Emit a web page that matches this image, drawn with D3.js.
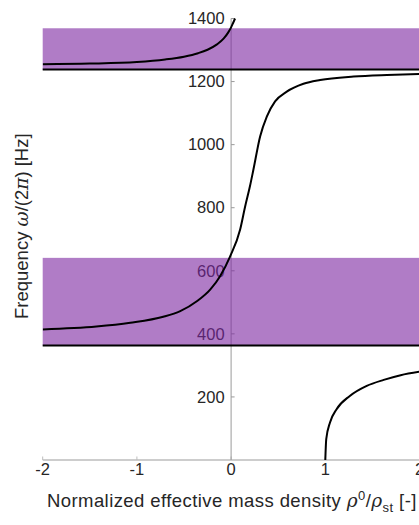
<!DOCTYPE html>
<html>
<head>
<meta charset="utf-8">
<script src="https://cdn.jsdelivr.net/npm/d3@7"></script>
<style>
  body { margin: 0; background: #fff; }
  svg { display: block; font-family: "Liberation Sans", Arial, sans-serif; }
</style>
</head>
<body>
<div id="chart"></div>
<script>
// stop bands (Hz), resonance frequencies (Hz)
var bands = [[363, 641], [1238, 1369]];
var resonances = [363, 1238];

// branches: [rho0/rho_st, frequency]
var branchTop = [[-2, 1255], [-1.5, 1257], [-1, 1262], [-0.7, 1270], [-0.5, 1279], [-0.35, 1290],
  [-0.25, 1301], [-0.15, 1318], [-0.08, 1336], [-0.03, 1356], [0.0, 1372], [0.02, 1385], [0.042, 1400]];
var branchMid = [[-2, 414], [-1.43, 423], [-1.07, 435], [-0.72, 454], [-0.54, 472], [-0.36, 504],
  [-0.22, 541], [-0.117, 583], [-0.01, 646], [0.096, 731], [0.149, 804], [0.2, 868], [0.237, 921],
  [0.308, 1026], [0.379, 1089], [0.467, 1137], [0.591, 1168], [0.768, 1193], [0.945, 1205],
  [1.3, 1216], [1.654, 1221], [2.0, 1224]];
var branchLow = [[1.0, 0], [1.01, 66], [1.05, 119], [1.12, 161], [1.26, 203], [1.44, 235],
  [1.62, 254], [1.8, 269], [2.0, 280]];

var xTicks = [-2, -1, 0, 1, 2];
var yTicks = [200, 400, 600, 800, 1000, 1200, 1400];

const width = 419, height = 525;
const mLeft = 42.7, mRight = 419.5, mTop = 18.5, mBottom = 460;

const svg = d3.select('#chart').append('svg')
  .attr('width', width)
  .attr('height', height);

const x = d3.scaleLinear().domain([-2, 2]).range([mLeft, mRight]);
const y = d3.scaleLinear().domain([0, 1400]).range([mBottom, mTop]);

svg.append('clipPath').attr('id', 'plot')
  .append('rect').attr('x', mLeft).attr('y', mTop - 2).attr('width', mRight - mLeft).attr('height', mBottom - mTop + 2);

// x axis along the bottom
const xAxis = svg.append('g').attr('transform', `translate(0,${mBottom})`);
xAxis.append('line').attr('x1', mLeft).attr('x2', mRight).attr('stroke', '#bdbdbd').attr('stroke-width', 1.3);
xAxis.selectAll('.tk').data(xTicks).enter().append('line')
  .attr('x1', d => x(d)).attr('x2', d => x(d)).attr('y1', 0).attr('y2', -3.5)
  .attr('stroke', '#bdbdbd');
xAxis.selectAll('text').data(xTicks).enter().append('text')
  .attr('x', d => x(d)).attr('y', 14.5)
  .attr('text-anchor', 'middle').attr('font-size', 16.5).attr('fill', '#262626')
  .text(d => d);

// y axis at rho = 0
const yAxis = svg.append('g').attr('transform', `translate(${x(0)},0)`);
yAxis.append('line').attr('y1', y(0)).attr('y2', y(1400)).attr('stroke', '#9a9a9a').attr('stroke-width', 1);
yAxis.selectAll('.tk').data(yTicks).enter().append('line')
  .attr('x1', 0).attr('x2', 3.5).attr('y1', d => y(d)).attr('y2', d => y(d))
  .attr('stroke', '#9a9a9a');
yAxis.selectAll('text').data(yTicks).enter().append('text')
  .attr('x', -6.5).attr('y', d => y(d)).attr('dy', '0.35em')
  .attr('text-anchor', 'end').attr('font-size', 16.5).attr('fill', '#262626')
  .text(d => d);

// band gaps, drawn over the axis labels
svg.append('g').selectAll('rect').data(bands).enter().append('rect')
  .attr('x', mLeft).attr('width', mRight - mLeft)
  .attr('y', d => y(d[1])).attr('height', d => y(d[0]) - y(d[1]))
  .attr('fill', '#7b25a0').attr('fill-opacity', 0.6);

svg.append('g').selectAll('line').data(resonances).enter().append('line')
  .attr('x1', mLeft).attr('x2', mRight).attr('y1', d => y(d)).attr('y2', d => y(d))
  .attr('stroke', '#000').attr('stroke-width', 2);

// dispersion branches
const line = d3.line().x(d => x(d[0])).y(d => y(d[1])).curve(d3.curveMonotoneX);
svg.append('g').attr('clip-path', 'url(#plot)')
  .selectAll('path').data([branchTop, branchMid, branchLow]).enter().append('path')
  .attr('d', line).attr('fill', 'none').attr('stroke', '#000').attr('stroke-width', 2);

// axis titles
const serif = '"DejaVu Serif", "Liberation Serif", serif';
const xl = svg.append('text').attr('x', 47).attr('y', 507)
  .attr('font-size', 18.5).attr('letter-spacing', 0.42).attr('fill', '#262626');
xl.append('tspan').text('Normalized effective mass density ');
xl.append('tspan').attr('font-family', serif).attr('font-style', 'italic').text('ρ');
xl.append('tspan').attr('font-size', 13).attr('dy', -7.5).text('0');
xl.append('tspan').attr('dy', 7.5).text('/');
xl.append('tspan').attr('font-family', serif).attr('font-style', 'italic').text('ρ');
xl.append('tspan').attr('font-size', 13).attr('dy', 5).text('st');
xl.append('tspan').attr('dy', -5).text(' [-]');

const yl = svg.append('text')
  .attr('transform', 'translate(28,319) rotate(-90)')
  .attr('font-size', 18.5).attr('fill', '#262626');
yl.append('tspan').text('Frequency ');
yl.append('tspan').attr('font-family', serif).attr('font-style', 'italic').text('ω');
yl.append('tspan').text('/(2');
yl.append('tspan').attr('font-family', serif).attr('font-style', 'italic').text('π');
yl.append('tspan').text(') [Hz]');
</script>
</body>
</html>
